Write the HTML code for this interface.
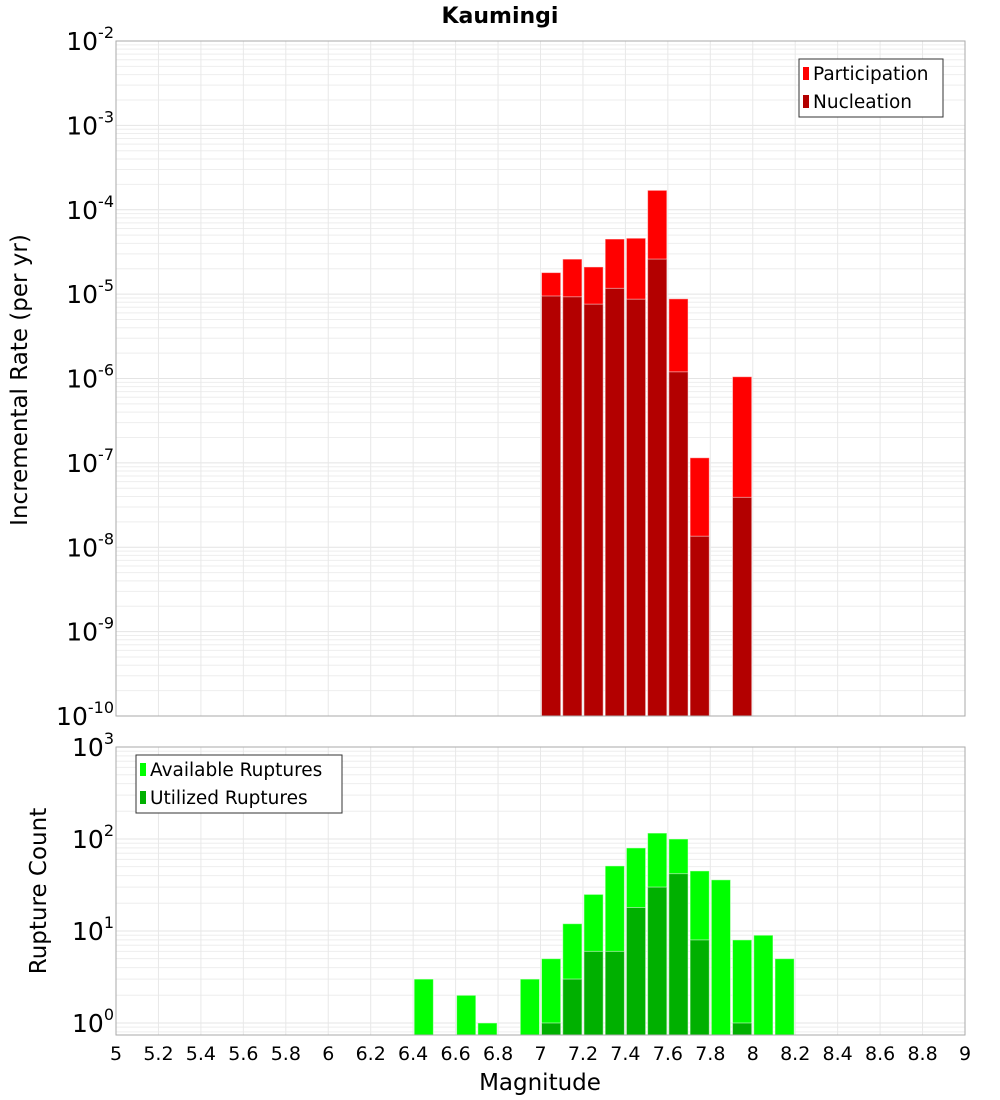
<!DOCTYPE html>
<html><head><meta charset="utf-8"><style>
body{margin:0;background:#fff}
svg{display:block;font-family:"DejaVu Sans","Liberation Sans",sans-serif}
</style></head><body>
<svg id="c" width="1000" height="1100"></svg>
<script>
const binCenters=[6.45,6.55,6.65,6.75,6.85,6.95,7.05,7.15,7.25,7.35,7.45,7.55,7.65,7.75,7.85,7.95,8.05,8.15];
const participation=[0,0,0,0,0,0,1.8e-5,2.6e-5,2.1e-5,4.5e-5,4.6e-5,1.7e-4,8.8e-6,1.15e-7,0,1.05e-6,0,0];
const nucleation=[0,0,0,0,0,0,9.5e-6,9.3e-6,7.6e-6,1.17e-5,8.7e-6,2.6e-5,1.2e-6,1.35e-8,0,3.9e-8,0,0];
const available=[3,0,2,1,0,3,5,12,25,51,80,116,100,45,36,8,9,5];
const utilized=[0,0,0,0,0,0,1,3,6,6,18,30,42,8,0,1,0,0];
const xTicks=[5,5.2,5.4,5.6,5.8,6,6.2,6.4,6.6,6.8,7,7.2,7.4,7.6,7.8,8,8.2,8.4,8.6,8.8,9];
const topExps=[-2,-3,-4,-5,-6,-7,-8,-9,-10];
const botExps=[0,1,2,3];

const NS='http://www.w3.org/2000/svg';
const svg=document.getElementById('c');
function el(t,a,p){const e=document.createElementNS(NS,t);for(const k in a)e.setAttribute(k,a[k]);(p||svg).appendChild(e);return e;}
const L=116,R=965;
const x=v=>L+(v-5)/4*(R-L);
const T={top:41,bot:716,lmin:-10,lmax:-2};
const B={top:747,bot:1035,lmin:Math.log10(0.74),lmax:3};
const yf=(P,v)=>P.bot-(Math.log10(v)-P.lmin)/(P.lmax-P.lmin)*(P.bot-P.top);

function panel(P,name){
  const g=el('g',{});  
  for(let e=Math.floor(P.lmin);e<P.lmax;e++){for(let m=1;m<10;m++){const v=m*Math.pow(10,e);const lv=Math.log10(v);if(lv<P.lmin||lv>P.lmax)continue;const yy=yf(P,v);
    el('line',{x1:L,x2:R,y1:yy,y2:yy,stroke:m==1?'#e4e4e4':'#eeeeee','stroke-width':1},g);}}
  xTicks.forEach(t=>{el('line',{x1:x(t),x2:x(t),y1:P.top,y2:P.bot,stroke:'#e8e8e8','stroke-width':1},g);});
}
function frame(P,name){const r=el('rect',{x:L,y:P.top,width:R-L,height:P.bot-P.top,fill:'none',stroke:'#aaa','stroke-width':1});}
function bars(P,vals,color,name){
  const g=el('g',{});
  vals.forEach((v,i)=>{if(!(v>0))return;const x0=x(binCenters[i]-0.05)+1,x1=x(binCenters[i]+0.05)-1;const yy=Math.max(P.top,yf(P,v));
    const r=el('rect',{x:x0,y:yy,width:x1-x0,height:P.bot-yy,fill:color,stroke:'#ffffff','stroke-opacity':0.5,'stroke-width':1},g);
    });
}
function yLabels(P,exps,name){
  const g=el('g',{});
  exps.forEach(e=>{const yy=yf(P,Math.pow(10,e));const t=el('text',{x:114,y:yy+9,'text-anchor':'end','font-size':25,fill:'#000'},g);
    t.textContent='10';const s=el('tspan',{dy:-12,'font-size':16},t);s.textContent=String(e);});
}
panel(T,'top');panel(B,'bottom');
bars(T,participation,'#ff0000','participation');
bars(T,nucleation,'#b30000','nucleation');
bars(B,available,'#00ff00','available');
bars(B,utilized,'#00b000','utilized');
frame(T,'top');frame(B,'bottom');
yLabels(T,topExps,'top');yLabels(B,botExps,'bottom');
const xg=el('g',{});
xTicks.forEach(t=>{const tx=el('text',{x:x(t),y:1060,'text-anchor':'middle','font-size':19},xg);tx.textContent=String(t);});
function txt(s,a,n){const t=el('text',a);t.textContent=s;return t;}
txt('Kaumingi',{x:500,y:23,'text-anchor':'middle','font-size':22,'font-weight':'bold'},'chart-title');
txt('Magnitude',{x:540,y:1090,'text-anchor':'middle','font-size':23},'x-axis-title');
txt('Incremental Rate (per yr)',{x:0,y:0,'text-anchor':'middle','font-size':23,transform:'translate(27,380) rotate(-90)'},'top-y-axis-title');
txt('Rupture Count',{x:0,y:0,'text-anchor':'middle','font-size':23,transform:'translate(46,891) rotate(-90)'},'bottom-y-axis-title');
function legend(x0,y0,w,items,name){const g=el('g',{});
  el('rect',{x:x0,y:y0,width:w,height:58,fill:'#fff',stroke:'#333','stroke-width':1},g);
  items.forEach((it,i)=>{const yy=y0+14+i*28;el('rect',{x:x0+4,y:yy-6,width:6,height:13,fill:it[1]},g);
    const t=el('text',{x:x0+14,y:yy+7,'font-size':18.5},g);t.textContent=it[0];});}
legend(799,59,144,[['Participation','#ff0000'],['Nucleation','#b30000']],'top-legend');
legend(136,755,206,[['Available Ruptures','#00ff00'],['Utilized Ruptures','#00b000']],'bottom-legend');
</script>
</body></html>
